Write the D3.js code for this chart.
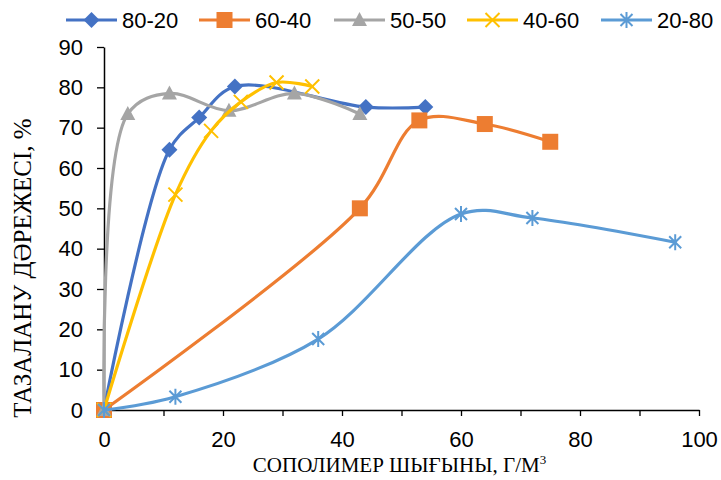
<!DOCTYPE html>
<html>
<head>
<meta charset="utf-8">
<script src="https://cdn.jsdelivr.net/npm/d3@7"></script>
<style>
  body { margin: 0; background: #fff; }
</style>
</head>
<body>
<div id="chart"></div>
<script>
// series data (x = copolymer dose, y = cleaning degree %)
const seriesNames = ["80-20", "60-40", "50-50", "40-60", "20-80"];
const x8020 = [0, 11, 16, 22, 44, 54];
const y8020 = [0, 64.5, 72.5, 80.2, 75.1, 75.1];
const x6040 = [0, 43, 53, 64, 75];
const y6040 = [0, 50, 71.8, 70.9, 66.5];
const x5050 = [0, 4, 11, 21, 32, 43];
const y5050 = [0, 73.4, 78.5, 74.2, 78.5, 73.4];
const x4060 = [0, 12, 18, 23, 29, 35];
const y4060 = [0, 53.4, 69.2, 76.4, 81.2, 80.2];
const x2080 = [0, 12, 36, 60, 72, 96];
const y2080 = [0, 3.3, 17.6, 48.6, 47.6, 41.6];
const xTicks = [0, 20, 40, 60, 80, 100];
const yTicks = [0, 10, 20, 30, 40, 50, 60, 70, 80, 90];

const colors = ["#4472C4", "#ED7D31", "#A5A5A5", "#FFC000", "#5B9BD5"];
const markers = ["diamond", "square", "triangle", "x", "star"];
const xs = [x8020, x6040, x5050, x4060, x2080];
const ys = [y8020, y6040, y5050, y4060, y2080];

const sans = "'Liberation Sans', Arial, sans-serif";
const serif = "'Liberation Serif', 'Times New Roman', serif";

const width = 721, height = 480;
const margin = {top: 47, right: 22, bottom: 70, left: 104};

const svg = d3.select("#chart").append("svg")
  .attr("width", width)
  .attr("height", height);

const x = d3.scaleLinear().domain([0, 100]).range([margin.left, width - margin.right]);
const y = d3.scaleLinear().domain([0, 90]).range([height - margin.bottom, margin.top]);

// axes
const xAxis = svg.append("g")
  .attr("transform", `translate(0, ${y(0)})`)
  .call(d3.axisBottom(x).tickValues(d3.range(0, 101, 10)).tickSize(6).tickSizeOuter(0)
    .tickFormat(d => xTicks.includes(d) ? d : ""));
xAxis.select(".domain").attr("stroke", "#000").attr("stroke-width", 1.5);
xAxis.selectAll(".tick line").attr("stroke", "#000").attr("stroke-width", 1.3);
xAxis.selectAll("text").attr("font-size", 22).attr("font-family", sans)
  .attr("fill", "#000").attr("y", 21);

const yAxis = svg.append("g")
  .attr("transform", `translate(${x(0)}, 0)`)
  .call(d3.axisLeft(y).tickValues(yTicks).tickSize(7).tickSizeOuter(0));
yAxis.select(".domain").attr("stroke", "#000").attr("stroke-width", 1.5);
yAxis.selectAll(".tick line").attr("stroke", "#000").attr("stroke-width", 1.3);
yAxis.selectAll("text").attr("font-size", 22).attr("font-family", sans)
  .attr("fill", "#000").attr("x", -21);

// axis titles
svg.append("text")
  .attr("x", (x(0) + x(100)) / 2 - 2)
  .attr("y", 472)
  .attr("text-anchor", "middle")
  .attr("font-family", serif)
  .attr("font-size", 21)
  .html("СОПОЛИМЕР ШЫҒЫНЫ, Г/М<tspan font-size='13' dy='-8'>3</tspan>");

svg.append("text")
  .attr("transform", "translate(31, 268) rotate(-90)")
  .attr("text-anchor", "middle")
  .attr("font-family", serif)
  .attr("font-size", 25)
  .text("ТАЗАЛАНУ ДӘРЕЖЕСІ, %");

// marker drawing
function drawMarker(g, type, color) {
  if (type === "diamond") {
    g.append("path").attr("d", "M0,-8L8,0L0,8L-8,0Z").attr("fill", color);
  } else if (type === "square") {
    g.append("rect").attr("x", -8).attr("y", -8).attr("width", 16).attr("height", 16).attr("fill", color);
  } else if (type === "triangle") {
    g.append("path").attr("d", "M0,-8L7.5,6L-7.5,6Z").attr("fill", color);
  } else if (type === "x") {
    g.append("path").attr("d", "M-7,-7L7,7M-7,7L7,-7").attr("stroke", color).attr("stroke-width", 2).attr("fill", "none");
  } else {
    g.append("path").attr("d", "M-6,-6L6,6M-6,6L6,-6M0,-8L0,8").attr("stroke", color).attr("stroke-width", 2).attr("fill", "none");
  }
}

const line = d3.line()
  .x(d => x(d[0]))
  .y(d => y(d[1]))
  .curve(d3.curveCatmullRom.alpha(0.5));

seriesNames.forEach((name, i) => {
  const pts = xs[i].map((v, j) => [v, ys[i][j]]);
  svg.append("path")
    .datum(pts)
    .attr("d", line)
    .attr("fill", "none")
    .attr("stroke", colors[i])
    .attr("stroke-width", 3.2)
    .attr("stroke-linecap", "round");
  svg.append("g").selectAll("g")
    .data(pts)
    .join("g")
    .attr("transform", d => `translate(${x(d[0])}, ${y(d[1])})`)
    .each(function() { drawMarker(d3.select(this), markers[i], colors[i]); });
});

// legend
const legendX = [66, 199, 334, 467, 601];
const legend = svg.append("g").attr("transform", "translate(0, 20)");
seriesNames.forEach((name, i) => {
  const g = legend.append("g").attr("transform", `translate(${legendX[i]}, 0)`);
  g.append("line").attr("x1", 0).attr("x2", 51).attr("y1", 0).attr("y2", 0)
    .attr("stroke", colors[i]).attr("stroke-width", 3.2);
  drawMarker(g.append("g").attr("transform", "translate(25.5, 0)"), markers[i], colors[i]);
  g.append("text").attr("x", 56).attr("y", 0).attr("dy", "0.35em")
    .attr("font-family", sans).attr("font-size", 22).attr("fill", "#000").text(name);
});
</script>
</body>
</html>
